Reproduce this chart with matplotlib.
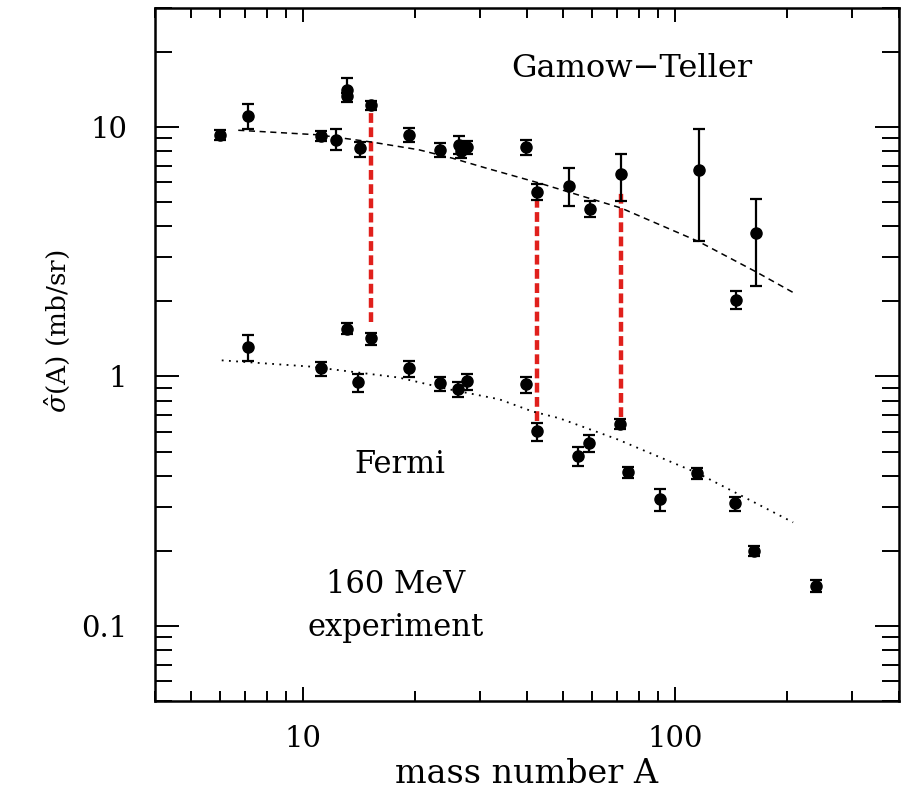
import matplotlib
matplotlib.use("Agg")
import matplotlib.pyplot as plt
from matplotlib.ticker import LogLocator, FixedLocator, NullFormatter

plt.rcParams["font.family"] = ["DejaVu Serif"]
plt.rcParams["mathtext.fontset"] = "dejavuserif"

# Gamow-Teller cross sections
gt_A = [6.0, 7.1, 11.2, 12.3, 13.1, 13.1, 14.2, 15.25, 19.3, 23.4, 26.3, 26.6, 27.7,
        39.7, 42.5, 52.0, 59.0, 71.5, 116.0, 146.0, 165.0]
gt_sigma = [9.3, 11.1, 9.2, 8.9, 14.1, 13.3, 8.2, 12.2, 9.3, 8.1, 8.5, 8.0, 8.3,
            8.3, 5.5, 5.8, 4.7, 6.5, 6.7, 2.03, 3.75]
gt_err_lo = [0.45, 1.3, 0.45, 0.8, 0.4, 0.7, 0.6, 0.5, 0.6, 0.5, 0.7, 0.5, 0.5,
             0.6, 0.4, 0.97, 0.35, 1.45, 3.2, 0.17, 1.44]
gt_err_hi = [0.45, 1.3, 0.45, 0.9, 1.6, 0.4, 0.5, 0.5, 0.6, 0.5, 0.7, 0.5, 0.5,
             0.6, 0.4, 1.05, 0.35, 1.3, 3.1, 0.17, 1.4]

# Fermi cross sections
f_A = [7.1, 11.2, 13.1, 14.1, 15.25, 19.3, 23.4, 26.2, 27.7, 39.7, 42.5, 54.8,
       58.7, 71.1, 74.7, 91.2, 115.0, 145.0, 163.0, 240.0]
f_sigma = [1.31, 1.076, 1.556, 0.946, 1.42, 1.076, 0.938, 0.887, 0.955, 0.929,
           0.603, 0.479, 0.54, 0.643, 0.413, 0.322, 0.409, 0.31, 0.2, 0.1445]
f_err = [0.16, 0.07, 0.08, 0.08, 0.08, 0.08, 0.06, 0.06, 0.07, 0.07,
         0.05, 0.04, 0.04, 0.03, 0.02, 0.033, 0.02, 0.02, 0.01, 0.008]

# trend curves
gt_fit_A = [6.7, 11.0, 15.3, 20.5, 25.2, 31.0, 43.0, 71.5, 116.0, 165.0, 208.0]
gt_fit_sigma = [9.7, 9.3, 8.7, 8.1, 7.5, 6.85, 5.97, 4.74, 3.47, 2.63, 2.17]
f_fit_A = [6.05, 10.4, 18.1, 24.8, 33.7, 41.4, 48.9, 70.0, 115.0, 208.0]
f_fit_sigma = [1.16, 1.096, 0.99, 0.887, 0.81, 0.724, 0.68, 0.56, 0.41, 0.26]

# red connectors between GT and Fermi points
red_A = [15.25, 42.5, 71.5]
red_top = [11.4, 5.1, 5.5]
red_bottom = [1.66, 0.66, 0.686]

fig = plt.figure(figsize=(9.06, 7.93), dpi=100)
ax = fig.add_axes([0.171, 0.116, 0.821, 0.874])
ax.set_xscale("log")
ax.set_yscale("log")
ax.set_xlim(4, 400)
ax.set_ylim(0.05, 30)

ax.plot(gt_fit_A, gt_fit_sigma, color="black", linestyle=(0, (4, 3)), linewidth=1.1)
ax.plot(f_fit_A, f_fit_sigma, color="black", linestyle=(0, (1, 3)), linewidth=1.3)

ax.vlines(red_A, red_bottom, red_top, colors="#e0201c", linestyles=(0, (2.2, 1.0)),
          linewidth=3.2, zorder=1)

ax.errorbar(gt_A, gt_sigma, yerr=[gt_err_lo, gt_err_hi], fmt="o", color="black",
            markersize=8, capsize=4.5, elinewidth=1.6, capthick=1.6, zorder=3)
ax.errorbar(f_A, f_sigma, yerr=f_err, fmt="o", color="black",
            markersize=8, capsize=4.5, elinewidth=1.6, capthick=1.6, zorder=3)

ax.text(76.6, 17.2, "Gamow\u2212Teller", fontsize=23, ha="center", va="center")
ax.text(18.2, 0.445, "Fermi", fontsize=22, ha="center", va="center")
ax.text(17.8, 0.147, "160 MeV", fontsize=22, ha="center", va="center")
ax.text(17.8, 0.099, "experiment", fontsize=22, ha="center", va="center")

ax.xaxis.set_major_locator(FixedLocator([10, 100]))
ax.xaxis.set_major_formatter(plt.FixedFormatter(["10", "100"]))
ax.xaxis.set_minor_locator(LogLocator(base=10, subs=range(2, 10), numticks=20))
ax.xaxis.set_minor_formatter(NullFormatter())
ax.yaxis.set_major_locator(FixedLocator([0.1, 1, 10]))
ax.yaxis.set_major_formatter(plt.FixedFormatter(["0.1", "1", "10"]))
ax.yaxis.set_minor_locator(LogLocator(base=10, subs=range(2, 10), numticks=20))
ax.yaxis.set_minor_formatter(NullFormatter())

ax.tick_params(axis="x", which="major", direction="in", top=True, length=10, width=1.4,
               labelsize=21, pad=17)
ax.tick_params(axis="x", which="minor", direction="in", top=True, length=7, width=1.4)
ax.tick_params(axis="y", which="major", direction="in", right=True, length=17, width=1.4,
               labelsize=21, pad=20)
ax.tick_params(axis="y", which="minor", direction="in", right=True, length=12, width=1.4)
for s in ax.spines.values():
    s.set_linewidth(1.8)

ax.set_xlabel("mass number A", fontsize=24, labelpad=4)
ax.set_ylabel(r"$\hat{\sigma}$(A) (mb/sr)", fontsize=19)
ax.yaxis.set_label_coords(-0.112, 0.534)

fig.savefig("out.png", dpi=100)
